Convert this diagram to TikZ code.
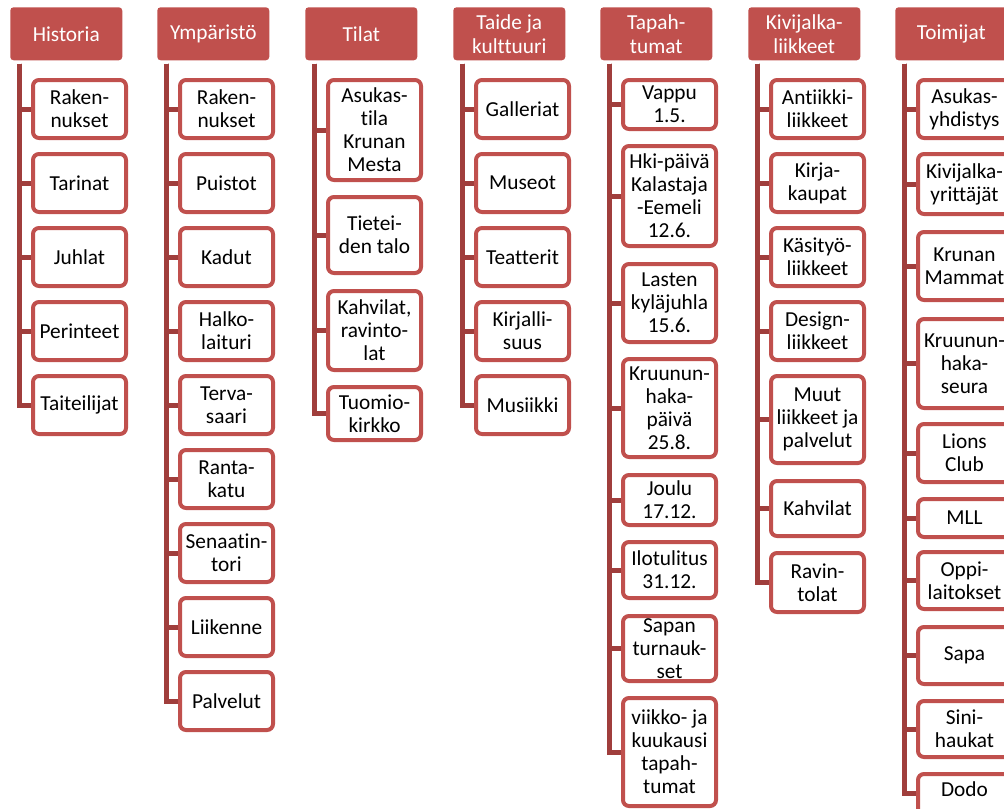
\documentclass[tikz,border=0pt]{standalone}
\usepackage{fontspec}
\setmainfont{Carlito}[Ligatures=NoCommon]
\usepackage{tikz}
\usetikzlibrary{positioning,calc}

\definecolor{accent}{RGB}{192,80,77}
\definecolor{trunkred}{RGB}{160,62,60}

\begin{document}
\begin{tikzpicture}[
    x=0.75pt, y=-0.75pt,
    head/.style={fill=accent, rounded corners=2.5pt, anchor=north west, minimum width=84pt, minimum height=39.75pt, inner sep=1pt, align=center, text=white, font=\fontsize{16}{18}\selectfont},
    kid/.style={draw=accent, fill=white, line width=3pt, rounded corners=4.5pt, anchor=north west, minimum width=69.75pt, inner sep=1pt, align=center, font=\fontsize{16}{17.3}\selectfont},
    ht/.style={minimum height=#1*0.75pt},
    trunk/.style={draw=trunkred, line width=3.75pt}
]
\useasboundingbox (0,0) rectangle (1004,808);
\clip (0,0) rectangle (1004,808);

% headers
\node[head] (hist) at (10,7) {Historia};
\node[head] (ymp) at (157,7) {Ympäristö};
\node[head] (tilat) at (305,7) {Tilat};
\node[head] (taide) at (453,7) {Taide ja\\kulttuuri};
\node[head] (tapaht) at (600,7) {Tapah-\\tumat};
\node[head] (kivi) at (748,7) {Kivijalka-\\liikkeet};
\node[head] (toim) at (895,7) {Toimijat};

% Historia
\node[kid, ht=58] (hist1) at (31,78) {Raken-\\nukset};
\node[kid, ht=58] (hist2) at (31,152) {Tarinat};
\node[kid, ht=58] (hist3) at (31,226) {Juhlat};
\node[kid, ht=58] (hist4) at (31,300) {Perinteet};
\node[kid, ht=58] (hist5) at (31,374) {Taiteilijat};

% Ympäristö
\node[kid, ht=58] (ymp1) at (178,78) {Raken-\\nukset};
\node[kid, ht=58] (ymp2) at (178,152) {Puistot};
\node[kid, ht=58] (ymp3) at (178,226) {Kadut};
\node[kid, ht=58] (ymp4) at (178,300) {Halko-\\laituri};
\node[kid, ht=58] (ymp5) at (178,374) {Terva-\\saari};
\node[kid, ht=58] (ymp6) at (178,448) {Ranta-\\katu};
\node[kid, ht=58] (ymp7) at (178,522) {Senaatin-\\tori};
\node[kid, ht=58] (ymp8) at (178,596) {Liikenne};
\node[kid, ht=58] (ymp9) at (178,670) {Palvelut};

% Tilat
\node[kid, ht=100] (tilat1) at (326,78) {Asukas-\\tila\\Krunan\\Mesta};
\node[kid, ht=76] (tilat2) at (326,195) {Tietei-\\den talo};
\node[kid, ht=79] (tilat3) at (326,289) {Kahvilat,\\ravinto-\\lat};
\node[kid, ht=53] (tilat4) at (326,385) {Tuomio-\\kirkko};

% Taide ja kulttuuri
\node[kid, ht=58] (taide1) at (474,78) {Galleriat};
\node[kid, ht=58] (taide2) at (474,152) {Museot};
\node[kid, ht=58] (taide3) at (474,226) {Teatterit};
\node[kid, ht=58] (taide4) at (474,300) {Kirjalli-\\suus};
\node[kid, ht=58] (taide5) at (474,374) {Musiikki};

% Tapahtumat
\node[kid, ht=49] (tapaht1) at (621,78) {Vappu\\1.5.};
\node[kid, ht=100] (tapaht2) at (621,144) {Hki-päivä\\Kalastaja\\-Eemeli\\12.6.};
\node[kid, ht=78] (tapaht3) at (621,262) {Lasten\\kyläjuhla\\15.6.};
\node[kid, ht=98] (tapaht4) at (621,357) {Kruunun-\\haka-\\päivä\\25.8.};
\node[kid, ht=50] (tapaht5) at (621,473) {Joulu\\17.12.};
\node[kid, ht=56] (tapaht6) at (621,540) {Ilotulitus\\31.12.};
\node[kid, ht=65] (tapaht7) at (621,614) {Sapan\\turnauk-\\set};
\node[kid, ht=108] (tapaht8) at (621,696) {viikko- ja\\kuukausi\\tapah-\\tumat};

% Kivijalkaliikkeet
\node[kid, ht=58] (kivi1) at (769,78) {Antiikki-\\liikkeet};
\node[kid, ht=58] (kivi2) at (769,152) {Kirja-\\kaupat};
\node[kid, ht=58] (kivi3) at (769,226) {Käsityö-\\liikkeet};
\node[kid, ht=58] (kivi4) at (769,300) {Design-\\liikkeet};
\node[kid, ht=87] (kivi5) at (769,374) {Muut\\liikkeet ja\\palvelut};
\node[kid, ht=55] (kivi6) at (769,479) {Kahvilat};
\node[kid, ht=59] (kivi7) at (769,551) {Ravin-\\tolat};

% Toimijat
\node[kid, ht=58] (toim1) at (916,78) {Asukas-\\yhdistys};
\node[kid, ht=60] (toim2) at (916,152) {Kivijalka-\\yrittäjät};
\node[kid, ht=68] (toim3) at (916,230) {Krunan\\Mammat};
\node[kid, ht=89] (toim4) at (916,317) {Kruunun-\\haka-\\seura};
\node[kid, ht=58] (toim5) at (916,422) {Lions\\Club};
\node[kid, ht=38] (toim6) at (916,497) {MLL};
\node[kid, ht=57] (toim7) at (916,550) {Oppi-\\laitokset};
\node[kid, ht=57] (toim8) at (916,625) {Sapa};
\node[kid, ht=56] (toim9) at (916,699) {Sini-\\haukat};
\node[kid, text height=16pt, text depth=16pt] (toim10) at (916,772) {Dodo};

% trunks and branches
\foreach \hd/\n in {hist/5, ymp/9, tilat/4, taide/5, tapaht/8, kivi/7, toim/9}
  \foreach \k in {1,...,\n}
    \draw[trunk] ([xshift=6.75pt,yshift=-2.25pt]\hd.south west) |- (\hd\k.west);
\draw[trunk] ([xshift=6.75pt,yshift=-2.25pt]toim.south west) |- (toim10.mid west);
\end{tikzpicture}
\end{document}
